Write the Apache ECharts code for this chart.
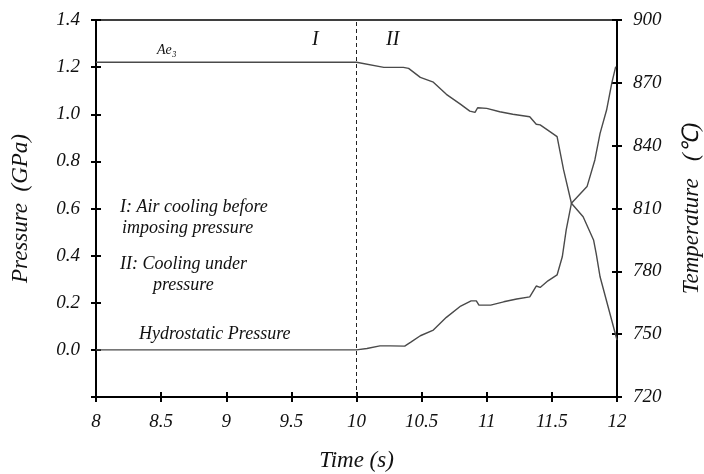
<!DOCTYPE html>
<html>
<head>
<meta charset="utf-8">
<script src="https://cdn.jsdelivr.net/npm/echarts@6/dist/echarts.min.js"></script>
<style>
  html, body { margin: 0; padding: 0; background: #fff; }
  #chart { width: 704px; height: 474px; }
</style>
</head>
<body>
<div id="chart"></div>
<script>
// temperature curve (right axis, deg C)
const tempTime = [8, 10, 10.21, 10.36, 10.40, 10.49, 10.59, 10.69, 10.80, 10.87, 10.91, 10.93, 11.00, 11.10, 11.20, 11.33, 11.38, 11.41, 11.46, 11.54, 11.59, 11.65, 11.74, 11.82, 11.84, 11.87, 12.0];
const tempVals = [879.8, 879.8, 877.4, 877.4, 876.9, 872.6, 870.3, 864.5, 859.7, 856.5, 855.9, 858.1, 857.8, 856.2, 855.0, 853.8, 850.2, 849.9, 847.8, 844.3, 828.4, 812.5, 806.1, 795.0, 788.6, 777.4, 747.2];

// pressure curve (left axis, GPa)
const presTime = [8, 10, 10.08, 10.18, 10.26, 10.37, 10.42, 10.49, 10.59, 10.69, 10.80, 10.88, 10.92, 10.94, 11.03, 11.13, 11.23, 11.33, 11.38, 11.41, 11.47, 11.54, 11.58, 11.61, 11.65, 11.77, 11.83, 11.87, 11.92, 11.96, 11.99];
const presVals = [0, 0, 0.006, 0.017, 0.017, 0.016, 0.034, 0.060, 0.084, 0.138, 0.186, 0.208, 0.208, 0.190, 0.190, 0.204, 0.216, 0.225, 0.271, 0.265, 0.293, 0.318, 0.395, 0.509, 0.622, 0.693, 0.806, 0.919, 1.018, 1.132, 1.202];

const stageBoundary = 10;

const font = 'Liberation Serif';
const chart = echarts.init(document.getElementById('chart'));

const zip = (xs, ys) => xs.map((x, i) => [x, ys[i]]);

const axisLine = { show: true, onZero: false, lineStyle: { color: '#000', width: 2 } };
const tickOut = { length: 5, lineStyle: { color: '#000', width: 2 } };
const tickIn = { inside: true, length: 5, lineStyle: { color: '#000', width: 2 } };
const labelStyle = { fontFamily: font, fontStyle: 'italic', fontSize: 19, color: '#111' };
const nameStyle = { fontFamily: font, fontStyle: 'italic', fontSize: 23, color: '#111' };

function txt(x, y, s, size) {
    return {
        type: 'text', left: x, top: y,
        style: { text: s, fontFamily: font, fontStyle: 'italic', fontSize: size || 18, fill: '#111' }
    };
}

const option = {
    animation: false,
    grid: {
        left: 96, right: 87, top: 20, bottom: 77,
        outerBoundsMode: 'none', containLabel: false,
        show: true, borderColor: '#000', borderWidth: 1.5
    },
    xAxis: [{
        type: 'value', min: 8, max: 12, interval: 0.5,
        name: 'Time (s)', nameLocation: 'middle', nameGap: 52,
        nameTextStyle: nameStyle,
        axisLine: axisLine,
        axisTick: tickOut,
        axisLabel: Object.assign({ margin: 15 }, labelStyle),
        splitLine: { show: false }
    }, {
        type: 'value', min: 8, max: 12, interval: 0.5, position: 'bottom',
        axisLine: { show: false, onZero: false },
        axisTick: tickIn,
        axisLabel: { show: false }, splitLine: { show: false }
    }],
    yAxis: [{
        type: 'value', min: -0.2, max: 1.4, interval: 0.2, position: 'left',
        name: 'Pressure  (GPa)', nameLocation: 'middle', nameGap: 64,
        nameTextStyle: nameStyle,
        axisLine: axisLine,
        axisTick: tickOut,
        axisLabel: Object.assign({
            margin: 16,
            formatter: v => v < -0.01 ? '' : v.toFixed(1)
        }, labelStyle),
        splitLine: { show: false }
    }, {
        type: 'value', min: 720, max: 900, interval: 30, position: 'right',
        name: 'Temperature   (\u2103)', nameLocation: 'middle', nameGap: 63,
        nameTextStyle: nameStyle,
        axisLine: axisLine,
        axisTick: tickOut,
        axisLabel: Object.assign({ margin: 16 }, labelStyle),
        splitLine: { show: false }
    }, {
        type: 'value', min: -0.2, max: 1.4, interval: 0.2, position: 'left',
        axisLine: { show: false },
        axisTick: tickIn,
        axisLabel: { show: false }, splitLine: { show: false }
    }, {
        type: 'value', min: 720, max: 900, interval: 30, position: 'right',
        axisLine: { show: false },
        axisTick: tickIn,
        axisLabel: { show: false }, splitLine: { show: false }
    }],
    series: [{
        name: 'Temperature', type: 'line', yAxisIndex: 1, showSymbol: false,
        data: zip(tempTime, tempVals),
        lineStyle: { color: '#4a4a4a', width: 1.4 },
        markLine: {
            silent: true, symbol: 'none', label: { show: false },
            lineStyle: { color: '#222', width: 1, type: [4, 3] },
            data: [{ xAxis: stageBoundary }]
        }
    }, {
        name: 'Pressure', type: 'line', yAxisIndex: 0, showSymbol: false,
        data: zip(presTime, presVals),
        lineStyle: { color: '#4a4a4a', width: 1.4 }
    }],
    graphic: [
        txt(157, 43, 'Ae\u2083', 14),
        txt(312, 30, 'I', 20),
        txt(386, 30, 'II', 20),
        txt(120, 198, 'I: Air cooling before'),
        txt(122, 219, 'imposing pressure'),
        txt(120, 255, 'II: Cooling under'),
        txt(153, 276, 'pressure'),
        txt(139, 325, 'Hydrostatic Pressure')
    ]
};

chart.setOption(option);
</script>
</body>
</html>
